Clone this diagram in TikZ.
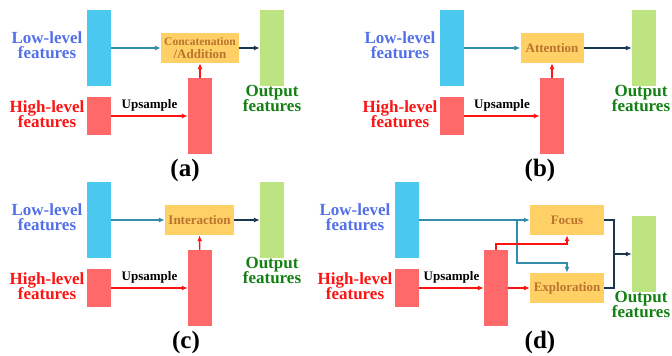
\documentclass[tikz,border=0pt]{standalone}
\usepackage{fontspec}
\setmainfont{Liberation Serif}
\usetikzlibrary{arrows.meta}
\lineskiplimit=-20pt
\definecolor{mapblue}{RGB}{75,200,240}
\definecolor{mapred}{RGB}{255,105,105}
\definecolor{mapgreen}{RGB}{190,228,130}
\definecolor{boxfill}{RGB}{255,208,102}
\definecolor{boxtext}{RGB}{188,115,45}
\definecolor{lowtext}{RGB}{84,112,232}
\definecolor{hightext}{RGB}{250,20,20}
\definecolor{outtext}{RGB}{20,128,20}
\definecolor{lowline}{RGB}{50,140,170}
\definecolor{outline}{RGB}{25,55,80}
\begin{document}
\begin{tikzpicture}[x=1pt,y=-1pt]
    \tikzset{feat map/.style={fill=#1,minimum width=24pt,minimum height=76pt,inner sep=0pt},
      small map/.style={feat map=#1,minimum height=38pt},
      fuse box/.style={fill=boxfill,text=boxtext,font=\bfseries\fontsize{13}{12.5}\selectfont,minimum height=30pt,minimum width=#1,inner sep=0pt,align=center},
      feat text/.style={text=#1,align=center,font=\bfseries\fontsize{17}{15}\selectfont},
      panel label/.style={font=\bfseries\fontsize{25}{25}\selectfont,anchor=base},
      up text/.style={above,font=\bfseries\fontsize{13}{13}\selectfont,yshift=0.5pt},
      link/.style={draw=#1,line width=1.4pt,-{Latex[length=6pt,width=5pt]}},
      plain link/.style={draw=#1,line width=1.4pt}}
    \useasboundingbox (0,0) rectangle (672,356);

    % (a)
    \node [feat map=mapblue] (lowA) at (99,48) {};
    \node [small map=mapred] (highA) at (99,116) {};
    \node [feat map=mapred] (upA) at (200,116) {};
    \node [fuse box=78pt] (fuseA) at (200,48) {\fontsize{11.5}{12.5}\selectfont Concatenation\\/Addition};
    \node [feat map=mapgreen] (outA) at (272,48) {};
    \node [feat text=lowtext] at ([xshift=-52pt,yshift=3pt]lowA.center) (lowA-label) {Low-level\\features};
    \node [feat text=hightext] at ([xshift=-52pt,yshift=2pt]highA.center) (highA-label) {High-level\\features};
    \node [feat text=outtext] at ([yshift=-12.5pt]outA.south) (outA-label) {Output\\features};
    \draw [link=lowline] (lowA) -- (fuseA);
    \draw [link=hightext] (highA) -- node [up text] {Upsample} (upA);
    \draw [link=hightext] (upA) -- (fuseA);
    \draw [link=outline] (fuseA) -- (outA);
    \node [panel label] at (185,176.5) (labelA) {(a)};

    % (b)
    \node [feat map=mapblue] (lowB) at (452,48) {};
    \node [small map=mapred] (highB) at (452,116) {};
    \node [feat map=mapred] (upB) at (552,116) {};
    \node [fuse box=63pt] (fuseB) at (552,48) {Attention};
    \node [feat map=mapgreen] (outB) at (644,48) {};
    \node [feat text=lowtext] at ([xshift=-52pt,yshift=3pt]lowB.center) (lowB-label) {Low-level\\features};
    \node [feat text=hightext] at ([xshift=-52pt,yshift=2pt]highB.center) (highB-label) {High-level\\features};
    \node [feat text=outtext] at ([xshift=-3pt,yshift=-12.5pt]outB.south) (outB-label) {Output\\features};
    \draw [link=lowline] (lowB) -- (fuseB);
    \draw [link=hightext] (highB) -- node [up text] {Upsample} (upB);
    \draw [link=hightext] (upB) -- (fuseB);
    \draw [link=outline] (fuseB) -- (outB);
    \node [panel label] at (540,176.5) (labelB) {(b)};

    % (c)
    \node [feat map=mapblue] (lowC) at (99,220) {};
    \node [small map=mapred] (highC) at (99,288) {};
    \node [feat map=mapred] (upC) at (200,288) {};
    \node [fuse box=69pt] (fuseC) at (199.5,220) {Interaction};
    \node [feat map=mapgreen] (outC) at (272,220) {};
    \node [feat text=lowtext] at ([xshift=-52pt,yshift=3pt]lowC.center) (lowC-label) {Low-level\\features};
    \node [feat text=hightext] at ([xshift=-52pt,yshift=2pt]highC.center) (highC-label) {High-level\\features};
    \node [feat text=outtext] at ([yshift=-12.5pt]outC.south) (outC-label) {Output\\features};
    \draw [link=lowline] (lowC) -- (fuseC);
    \draw [link=hightext] (highC) -- node [up text] {Upsample} (upC);
    \draw [link=hightext] (upC) -- (fuseC);
    \draw [link=outline] (fuseC) -- (outC);
    \node [panel label] at (186,348) (labelC) {(c)};

    % (d)
    \node [feat map=mapblue] (lowD) at (407,220) {};
    \node [small map=mapred] (highD) at (407,288) {};
    \node [feat map=mapred] (upD) at (496,288) {};
    \node [fuse box=74pt] (focus) at (567,220) {Focus};
    \node [fuse box=74pt] (explore) at (567,288) {Exploration};
    \node [feat map=mapgreen] (outD) at (644,254) {};
    \node [feat text=lowtext] at ([xshift=-52pt,yshift=3pt]lowD.center) (lowD-label) {Low-level\\features};
    \node [feat text=hightext] at ([xshift=-52pt,yshift=2pt]highD.center) (highD-label) {High-level\\features};
    \node [feat text=outtext] at ([xshift=-3pt,yshift=-12.5pt]outD.south) (outD-label) {Output\\features};
    \coordinate (split) at (517,220);
    \coordinate (split-bend) at (517,263);
    \coordinate (merge) at (614,254);
    \draw [link=lowline] (lowD) -- (focus);
    \draw [link=lowline] (split) -- (split-bend) -| (explore.north);
    \draw [link=hightext] (upD.north) -- ++(0,-6) -| (focus.south);
    \draw [link=hightext] (highD) -- node [up text] {Upsample} (upD);
    \draw [link=hightext] (upD) -- (explore);
    \draw [plain link=outline] (focus.east) -| (merge);
    \draw [plain link=outline] (explore.east) -| (merge);
    \draw [link=outline] (merge) -- (outD);
    \node [panel label] at (540,348) (labelD) {(d)};
  \end{tikzpicture}
\end{document}
